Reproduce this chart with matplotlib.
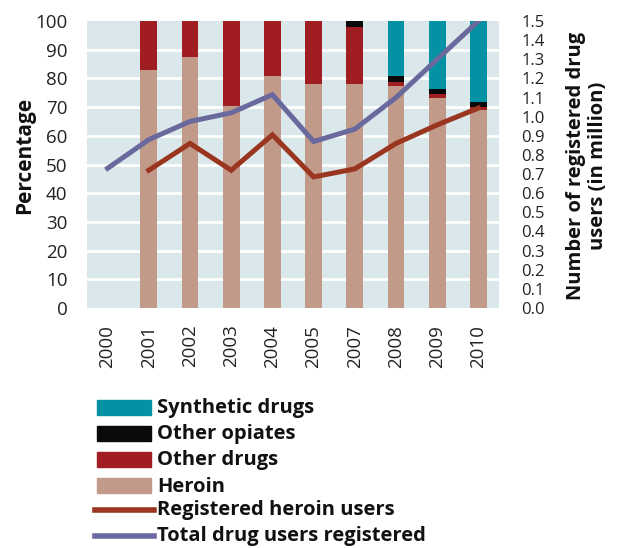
import matplotlib
matplotlib.use("Agg")
import matplotlib.pyplot as plt
import numpy as np
from matplotlib.patches import Rectangle
from matplotlib.lines import Line2D

years = ["2000", "2001", "2002", "2003", "2004", "2005", "2007", "2008", "2009", "2010"]
heroin = [0, 83, 87.5, 70.5, 81, 78, 78, 77.5, 73, 69]
other_drugs = [0, 17, 12.5, 29.5, 19, 22, 20, 1.2, 1.7, 1.0]
other_opiates = [0, 0, 0, 0, 0, 0, 2, 2, 1.7, 1.7]
synthetic = [0, 0, 0, 0, 0, 0, 0, 19.3, 23.6, 28.3]
heroin_users = [np.nan, 0.72, 0.86, 0.72, 0.905, 0.685, 0.727, 0.86, 0.957, 1.045]
total_users = [0.73, 0.88, 0.975, 1.02, 1.115, 0.87, 0.935, 1.10, 1.30, 1.50]
legend_labels = ["Synthetic drugs", "Other opiates", "Other drugs", "Heroin",
                 "Registered heroin users", "Total drug users registered"]

c_syn = "#0392a3"
c_opi = "#0a0a0a"
c_oth = "#a01d22"
c_her = "#c29a89"
c_hline = "#9a3520"
c_tline = "#6a699d"
bg = "#dae8eb"

plt.rcParams['font.family'] = ['Open Sans', 'DejaVu Sans']

W, H = 617, 548
fig = plt.figure(figsize=(W/100, H/100), dpi=100)
ax = fig.add_axes([87/W, 1-308/H, 412/W, 287/H])
ax.set_facecolor(bg)
x = np.arange(len(years))
ax.set_xlim(-0.5, len(years)-0.5)
ax.set_ylim(0, 100)
ax.set_yticks(range(0, 101, 10))
for v in range(10, 100, 10):
    ax.axhline(v, color="white", lw=2, zorder=1)
w = 0.41
b = np.zeros(len(years))
for vals, col in [(heroin, c_her), (other_drugs, c_oth), (other_opiates, c_opi), (synthetic, c_syn)]:
    ax.bar(x, vals, w, bottom=b, color=col, zorder=2, clip_on=False)
    b = b + np.array(vals)
ax.set_xticks(x)
ax.set_xticklabels(years, rotation=90)
ax.tick_params(axis='both', length=0, labelsize=13.5, labelcolor='#222222')
ax.tick_params(axis='x', pad=12)
ax.tick_params(axis='y', pad=14)
for s in ax.spines.values():
    s.set_visible(False)

ax2 = ax.twinx()
ax2.set_ylim(0, 1.5)
ticks = np.arange(0, 1.51, 0.1)
ax2.set_yticks(ticks)
ax2.set_yticklabels([f"{t:.1f}" for t in ticks])
ax2.tick_params(axis='y', length=0, labelsize=12, pad=16, labelcolor='#222222')
for s in ax2.spines.values():
    s.set_visible(False)
ax2.plot(x, heroin_users, color=c_hline, lw=3.6, zorder=5, solid_joinstyle='miter')
ax2.plot(x, total_users, color=c_tline, lw=3.6, zorder=5, solid_joinstyle='miter')

fig.text(25/W, 1-155/H, "Percentage", rotation=90, ha='center', va='center',
         fontsize=15, fontweight='bold', color='#111111')
fig.text(587/W, 1-166/H, "Number of registered drug\nusers (in million)", rotation=90,
         ha='center', va='center', multialignment='center', linespacing=1.1,
         fontsize=14.5, fontweight='bold', color='#111111')

# legend
rows_y = [407.5, 433.5, 459.5, 485.5, 509.5, 535.5]
cols = [c_syn, c_opi, c_oth, c_her, c_hline, c_tline]
for i, (lab, col) in enumerate(zip(legend_labels, cols)):
    yc = rows_y[i]
    if i < 4:
        fig.patches.append(Rectangle((97/W, 1-(yc+7.5)/H), 54/W, 15/H, color=col,
                                     transform=fig.transFigure, figure=fig))
    else:
        fig.lines.append(Line2D([95/W, 154/W], [1-yc/H, 1-yc/H], color=col, lw=4,
                                transform=fig.transFigure, figure=fig))
    fig.text(157/W, 1-(yc+1)/H, lab, ha='left', va='center', fontsize=14.5,
             fontweight='bold', color='#111111')

fig.savefig("out.png", dpi=100)
